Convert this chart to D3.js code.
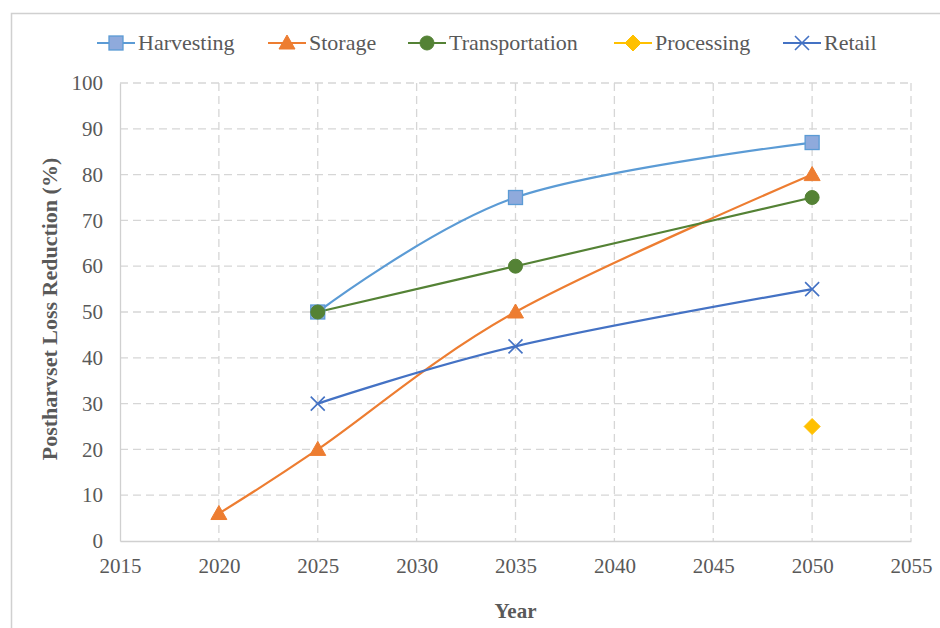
<!DOCTYPE html>
<html><head><meta charset="utf-8">
<script src="https://cdn.jsdelivr.net/npm/d3@7/dist/d3.min.js"></script>
<style>body{margin:0;background:#fff;}svg{display:block;}</style>
</head><body>
<svg id="c" width="940" height="628"></svg>
<script>
const xTicks = [2015,2020,2025,2030,2035,2040,2045,2050,2055];
const yTicks = [0,10,20,30,40,50,60,70,80,90,100];
const seriesNames = ["Harvesting","Storage","Transportation","Processing","Retail"];
const harvestingYears = [2025,2035,2050];
const harvestingValues = [50,75,87];
const storageYears = [2020,2025,2035,2050];
const storageValues = [6,20,50,80];
const transportationYears = [2025,2035,2050];
const transportationValues = [50,60,75];
const processingYears = [2050];
const processingValues = [25];
const retailYears = [2025,2035,2050];
const retailValues = [30,42.5,55];

const series = [
  {name:seriesNames[0], years:harvestingYears, values:harvestingValues, color:"#5b9bd5", fill:"#8faadc", marker:"square"},
  {name:seriesNames[1], years:storageYears, values:storageValues, color:"#ed7d31", fill:"#ed7d31", marker:"triangle"},
  {name:seriesNames[2], years:transportationYears, values:transportationValues, color:"#548235", fill:"#548235", marker:"circle"},
  {name:seriesNames[3], years:processingYears, values:processingValues, color:"#ffc000", fill:"#ffc000", marker:"diamond"},
  {name:seriesNames[4], years:retailYears, values:retailValues, color:"#4472c4", fill:"none", marker:"x"}
];

const svg = d3.select("#c");
const W=940,H=628;
svg.append("rect").attr("x",11.5).attr("y",13.5).attr("width",W).attr("height",H).attr("fill","#fff").attr("stroke","#d0d0d0").attr("stroke-width",1.5);

const m = {l:120, r:911, t:83, b:541};
const x = d3.scaleLinear().domain([2015,2055]).range([m.l,m.r]);
const y = d3.scaleLinear().domain([0,100]).range([m.b,m.t]);

const font = "'Liberation Serif','Times New Roman',serif";
const g = svg.append("g");

// gridlines
g.selectAll(".hg").data(yTicks.filter(d=>d>0)).enter().append("line")
  .attr("x1",m.l).attr("x2",m.r).attr("y1",d=>y(d)).attr("y2",d=>y(d))
  .attr("stroke","#d6d6d6").attr("stroke-width",1.3).attr("stroke-dasharray","8,5");
g.selectAll(".vg").data(xTicks.filter(d=>d>2015)).enter().append("line")
  .attr("x1",d=>x(d)).attr("x2",d=>x(d)).attr("y1",m.t).attr("y2",m.b)
  .attr("stroke","#d6d6d6").attr("stroke-width",1.3).attr("stroke-dasharray","8,5");

// axes
const xAxis = d3.axisBottom(x).tickValues(xTicks).tickFormat(d3.format("d")).tickSize(0).tickPadding(17);
const yAxis = d3.axisLeft(y).tickValues(yTicks).tickSize(0).tickPadding(17);
const xa = g.append("g").attr("transform",`translate(0,${m.b})`).call(xAxis);
const ya = g.append("g").attr("transform",`translate(${m.l},0)`).call(yAxis);
[xa,ya].forEach(a=>{
  a.attr("font-family",font).attr("font-size",21);
  a.select(".domain").attr("stroke","#d0d0d0").attr("stroke-width",1.3);
  a.selectAll("text").attr("font-family",font).attr("font-size",21).attr("fill","#595959");
});

// axis titles
svg.append("text").attr("x",(m.l+m.r)/2).attr("y",618).attr("text-anchor","middle")
  .attr("font-family",font).attr("font-size",21).attr("font-weight","bold").attr("fill","#595959").text("Year");
svg.append("text").attr("transform",`translate(57,${(m.t+m.b)/2 - 3}) rotate(-90)`).attr("text-anchor","middle")
  .attr("font-family",font).attr("font-size",22).attr("font-weight","bold").attr("fill","#595959").text("Postharvset Loss Reduction (%)");

function drawMarker(sel, type, s){
  const c = s.color, f = s.fill;
  if(type==="square") sel.append("rect").attr("x",-7).attr("y",-7).attr("width",14).attr("height",14).attr("fill",f).attr("stroke",c).attr("stroke-width",1.3);
  if(type==="triangle") sel.append("path").attr("d","M0,-8L8,6L-8,6Z").attr("fill",f).attr("stroke",c).attr("stroke-width",1);
  if(type==="circle") sel.append("circle").attr("r",7).attr("fill",f).attr("stroke",c).attr("stroke-width",1);
  if(type==="diamond") sel.append("path").attr("d","M0,-8L8,0L0,8L-8,0Z").attr("fill",f).attr("stroke",c).attr("stroke-width",1);
  if(type==="x") sel.append("path").attr("d","M-7,-7L7,7M-7,7L7,-7").attr("fill","none").attr("stroke",c).attr("stroke-width",1.6);
}

const line = d3.line().x(d=>x(d[0])).y(d=>y(d[1])).curve(d3.curveCardinal.tension(0));
series.forEach(s=>{
  const pts = s.years.map((yr,i)=>[yr,s.values[i]]);
  if(pts.length>1) g.append("path").attr("d",line(pts)).attr("fill","none").attr("stroke",s.color).attr("stroke-width",2.2);
});
series.forEach(s=>{
  const pts = s.years.map((yr,i)=>[yr,s.values[i]]);
  pts.forEach(p=>{
    const mg = g.append("g").attr("transform",`translate(${x(p[0])},${y(p[1])})`);
    drawMarker(mg, s.marker, s);
  });
});

// legend
const legX = [97,268,408,614,783];
series.forEach((s,i)=>{
  const lg = svg.append("g").attr("transform",`translate(${legX[i]},43)`);
  lg.append("line").attr("x1",0).attr("x2",38).attr("y1",0).attr("y2",0).attr("stroke",s.color).attr("stroke-width",2.2);
  const mg = lg.append("g").attr("transform","translate(19,0)");
  drawMarker(mg, s.marker, s);
  lg.append("text").attr("x",41).attr("y",7).attr("font-family",font).attr("font-size",22).attr("fill","#595959").text(s.name);
});
</script>
</body></html>
